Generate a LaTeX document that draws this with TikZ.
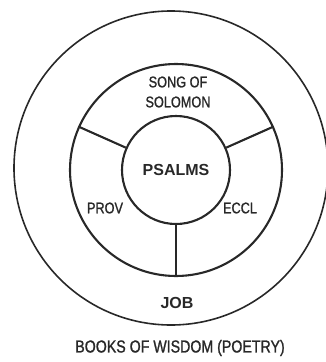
\documentclass[tikz,border=0pt]{standalone}
\usepackage{fontspec}
\setmainfont{Liberation Sans}
\newfontfamily\narrowfont[FakeStretch=0.82, FakeBold=1.2]{Liberation Sans}
\definecolor{inkgray}{RGB}{40, 40, 40}

\begin{document}
\begin{tikzpicture}[x=1pt, y=-1pt,
    ringline/.style={circle, draw=inkgray, line width=2.1pt, inner sep=0pt},
    booklbl/.style={font=\narrowfont\fontsize{15.5}{20}\selectfont, text=inkgray,
        align=center},
    bigbook/.style={font=\bfseries\fontsize{16}{19}\selectfont, text=inkgray},
    spoke/.style={draw=inkgray, line width=2.1pt}
]
\useasboundingbox (0,0) rectangle (325,362);

% Circles (outside in)
\node[ringline, line width=1.6pt, minimum size=314pt] (wisdom) at (171,168) {};
\node[ringline, minimum size=212pt] (ring) at (176,170) {};
\node[ringline, bigbook, minimum size=108pt] (psalms) at (176,170) {PSALMS};

% Spokes between inner circle and ring
\draw[spoke] (psalms.156) -- (ring.156);
\draw[spoke] (psalms.24) -- (ring.24);
\draw[spoke] (psalms.south) -- (ring.south);

% Book names
\node[booklbl] (song) at (178,92) {SONG OF\\SOLOMON};
\node[booklbl] (prov) at (105,208) {PROV};
\node[booklbl] (eccl) at (240,208) {ECCL};
\node[bigbook] (job) at (177,303) {JOB};

% Caption
\node[font=\narrowfont\fontsize{17.3}{20}\selectfont, text=inkgray] (title) at (180,348)
    {BOOKS OF WISDOM (POETRY)};

\end{tikzpicture}
\end{document}
